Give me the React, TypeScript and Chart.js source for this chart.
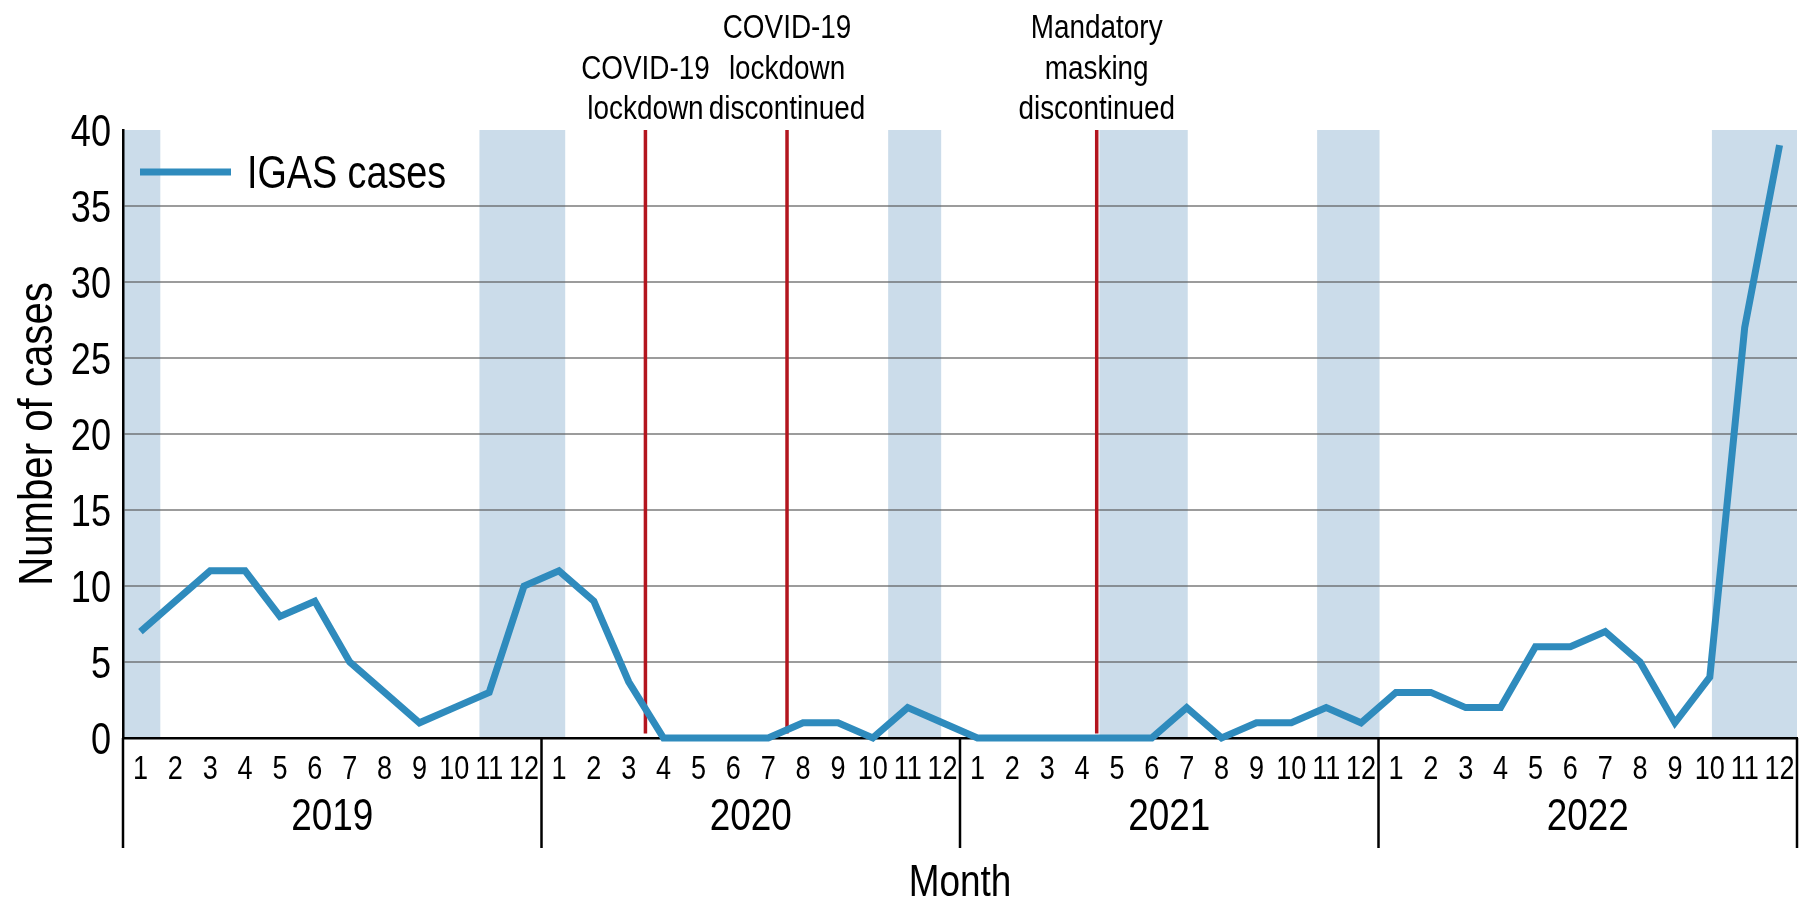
import React, { useEffect, useRef } from 'react';
import { Chart, registerables } from 'chart.js';

Chart.register(...registerables);

const FONT = '"Liberation Sans", Arial, Helvetica, sans-serif';
const NARROW = 0.82; // horizontal condensing to mimic a narrow Helvetica

// ---- data ----
const years = ['2019', '2020', '2021', '2022'];
const monthLabels = ['1', '2', '3', '4', '5', '6', '7', '8', '9', '10', '11', '12'];
const cases2019 = [7, 9, 11, 11, 8, 9, 5, 3, 1, 2, 3, 10];
const cases2020 = [11, 9, 3.7, 0, 0, 0, 0, 1, 1, 0, 2, 1];
const cases2021 = [0, 0, 0, 0, 0, 0, 2, 0, 1, 1, 2, 1];
const cases2022 = [3, 3, 2, 2, 6, 6, 7, 5, 1, 4, 27, 39];
const yTickValues = [0, 5, 10, 15, 20, 25, 30, 35, 40];
// shaded periods, in month-index units (0 = Jan 2019)
const shadedStart = [-0.5, 9.72, 21.44, 27.5, 33.74, 45.06];
const shadedEnd = [0.57, 12.18, 22.96, 30.03, 35.53, 47.5];
// events (month-index units)
const eventPositions = [14.48, 18.54, 27.42];
const eventLabels = [
  ['COVID-19', 'lockdown'],
  ['COVID-19', 'lockdown', 'discontinued'],
  ['Mandatory', 'masking', 'discontinued'],
];
const seriesLabel = 'IGAS cases';
const xTitle = 'Month';
const yTitle = 'Number of cases';

const LINE_COLOR = '#2f8bbd';
const BAND_COLOR = '#cbdcea';
const RED = '#b3151f';

const allCases = [...cases2019, ...cases2020, ...cases2021, ...cases2022];
const points = allCases.map((v, i) => ({ x: i, y: v }));

function narrowText(
  ctx: CanvasRenderingContext2D,
  text: string,
  x: number,
  y: number,
  size: number,
  align: CanvasTextAlign,
  rotate = 0
) {
  ctx.save();
  ctx.translate(x, y);
  if (rotate) ctx.rotate(rotate);
  ctx.scale(NARROW, 1);
  ctx.font = `${size}px ${FONT}`;
  ctx.textAlign = align;
  ctx.textBaseline = 'alphabetic';
  ctx.fillStyle = '#000';
  ctx.fillText(text, 0, 0);
  ctx.restore();
}

const overlay = {
  id: 'overlay',
  beforeDraw(chart: any) {
    const { ctx, chartArea: a, scales } = chart;
    const x = scales.x;
    ctx.save();
    ctx.fillStyle = '#ffffff';
    ctx.fillRect(0, 0, chart.width, chart.height);
    ctx.fillStyle = BAND_COLOR;
    shadedStart.forEach((s, i) => {
      const x0 = x.getPixelForValue(s);
      const x1 = x.getPixelForValue(shadedEnd[i]);
      ctx.fillRect(x0, a.top, x1 - x0, a.bottom - a.top);
    });
    ctx.restore();
  },
  beforeDatasetsDraw(chart: any) {
    const { ctx, chartArea: a, scales } = chart;
    const x = scales.x;
    const y = scales.y;
    ctx.save();
    ctx.strokeStyle = RED;
    ctx.lineWidth = 3.5;
    eventPositions.forEach((p) => {
      const px = x.getPixelForValue(p);
      ctx.beginPath();
      ctx.moveTo(px, y.getPixelForValue(0.3));
      ctx.lineTo(px, a.top);
      ctx.stroke();
    });
    ctx.restore();
  },
  afterDraw(chart: any) {
    const { ctx, chartArea: a, scales } = chart;
    const x = scales.x;
    const y = scales.y;
    ctx.save();
    ctx.strokeStyle = '#000';

    // axis extensions and year dividers
    ctx.lineWidth = 2.5;
    const boundaries = [-0.5];
    years.forEach((_, yi) => boundaries.push(yi * 12 + 11.5));
    boundaries.forEach((b) => {
      const px = x.getPixelForValue(b);
      ctx.beginPath();
      ctx.moveTo(px, a.bottom);
      ctx.lineTo(px, a.bottom + 110);
      ctx.stroke();
    });

    // y tick labels
    yTickValues.forEach((v) => {
      narrowText(ctx, String(v), a.left - 12, y.getPixelForValue(v) + 15.5, 44, 'right');
    });

    // month labels
    allCases.forEach((_, i) => {
      narrowText(ctx, monthLabels[i % 12], x.getPixelForValue(i), a.bottom + 41, 33, 'center');
    });

    // year labels
    years.forEach((yr, yi) => {
      const cx = (x.getPixelForValue(yi * 12 - 0.5) + x.getPixelForValue(yi * 12 + 11.5)) / 2;
      narrowText(ctx, yr, cx, a.bottom + 92, 45, 'center');
    });

    // x title
    narrowText(ctx, xTitle, (a.left + a.right) / 2, a.bottom + 158, 45, 'center');

    // y title
    narrowText(ctx, yTitle, 52, (a.top + a.bottom) / 2, 49, 'center', -Math.PI / 2);

    // event annotations
    eventPositions.forEach((p, ei) => {
      const px = x.getPixelForValue(p);
      const lines = eventLabels[ei];
      lines.forEach((ln, li) => {
        const base = a.top - 11 - (lines.length - 1 - li) * 40.5;
        narrowText(ctx, ln, px, base, 34, 'center');
      });
    });

    // legend
    ctx.strokeStyle = LINE_COLOR;
    ctx.lineWidth = 7;
    ctx.beginPath();
    ctx.moveTo(a.left + 17, a.top + 42);
    ctx.lineTo(a.left + 108, a.top + 42);
    ctx.stroke();
    narrowText(ctx, seriesLabel, a.left + 124, a.top + 58, 46, 'left');

    ctx.restore();
  },
};

export default function App() {
  const ref = useRef<HTMLCanvasElement | null>(null);

  useEffect(() => {
    if (!ref.current) return;
    const chart = new Chart(ref.current, {
      type: 'line',
      data: {
        datasets: [
          {
            label: seriesLabel,
            data: points,
            borderColor: LINE_COLOR,
            backgroundColor: LINE_COLOR,
            borderWidth: 7,
            pointRadius: 0,
            tension: 0,
            borderJoinStyle: 'miter',
            borderCapStyle: 'butt',
            clip: false as any,
          },
        ],
      },
      options: {
        responsive: false,
        animation: false,
        devicePixelRatio: 1,
        layout: { padding: { top: 130, left: 0, right: 3, bottom: 0 } },
        plugins: {
          legend: { display: false },
          tooltip: { enabled: false },
        },
        scales: {
          x: {
            type: 'linear',
            min: -0.5,
            max: 47.5,
            ticks: { display: false },
            grid: { display: false, drawTicks: false },
            border: { display: true, color: '#000', width: 2.5 },
            afterFit: (s: any) => {
              s.height = 176;
            },
          },
          y: {
            min: 0,
            max: 40,
            afterBuildTicks: (s: any) => {
              s.ticks = yTickValues.map((v) => ({ value: v }));
            },
            ticks: { display: false },
            grid: {
              drawTicks: false,
              lineWidth: 2,
              color: (c: any) =>
                c.tick && (c.tick.value === 0 || c.tick.value === 40) ? 'rgba(0,0,0,0)' : 'rgba(90,90,90,0.6)',
            },
            border: { display: true, color: '#000', width: 2.5 },
            afterFit: (s: any) => {
              s.width = 123;
            },
          },
        },
      },
      plugins: [overlay],
    });
    return () => chart.destroy();
  }, []);

  return (
    <div style={{ position: 'absolute', left: 0, top: 0, width: 1800, height: 914 }}>
      <canvas ref={ref} width={1800} height={914} style={{ display: 'block' }} />
    </div>
  );
}
